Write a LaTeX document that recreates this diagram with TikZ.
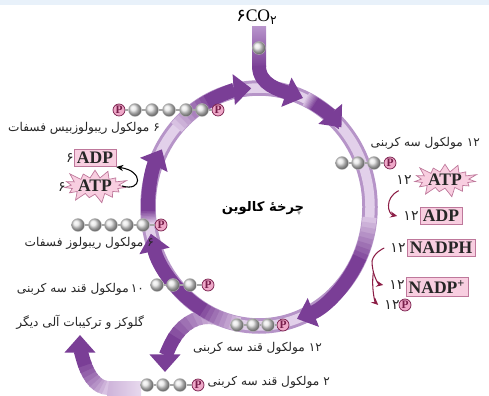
\documentclass[tikz,border=0pt]{standalone}
\usepackage{fontspec}
\setmainfont{Liberation Serif}
\newfontfamily\fa[Script=Arabic]{DejaVu Sans}
\TeXXeTstate=1
\usetikzlibrary{arrows.meta,shapes.symbols}

\definecolor{cycpur}{RGB}{122,62,150}
\definecolor{co2pur}{RGB}{165,120,190}
\definecolor{ringlight}{RGB}{226,208,234}
\definecolor{ringedge}{RGB}{182,148,200}
\definecolor{pfill}{RGB}{238,168,200}
\definecolor{pdraw}{RGB}{120,30,75}
\definecolor{boxfill}{RGB}{248,206,224}
\definecolor{boxdraw}{RGB}{190,120,155}
\definecolor{arrred}{RGB}{140,30,70}
\definecolor{topstrip}{RGB}{232,241,250}

\tikzset{
  pband/.style={line width=0.28cm},
  bigtip/.style={-{Triangle[width=17pt,length=10pt]}},
  ball/.style={circle, minimum size=0.26cm, inner sep=0pt, ball color=gray!20, draw=gray!55, very thin},
  phos/.style={circle, minimum size=0.24cm, inner sep=0pt, fill=pfill, draw=pdraw, thin, text=pdraw, font=\bfseries\fontsize{6.5}{6.5}\selectfont},
  link/.style={draw=gray!70, thick},
  enbox/.style={draw=boxdraw, fill=boxfill, inner sep=1.6pt, text=black!85, font=\bfseries\fontsize{10}{10}\selectfont},
  burst/.style={starburst, starburst points=15, starburst point height=6pt, fill=boxfill, draw=boxdraw, inner sep=0pt, text=black!85, font=\bfseries\fontsize{10}{10}\selectfont},
  falabel/.style={text=black!85, font=\fa\fontsize{6.9}{8}\selectfont},
  num/.style={text=black!85, font=\fa\fontsize{8}{9}\selectfont},
  redarr/.style={draw=arrred, semithick, -{Stealth[length=4pt,width=3.5pt]}},
}

\newcommand{\fatxt}[1]{\beginR #1\endR}

% arc that fades from the ring colour into dark purple, tip at the end
\newcommand{\fadearc}[6]{%
  \foreach \k in {0,...,7}{%
    \pgfmathsetmacro{\aa}{#4+(#5-#4)*\k/8}%
    \pgfmathsetmacro{\ab}{#4+(#5-#4)*(\k+1.4)/8}%
    \pgfmathtruncatemacro{\pc}{10+11*\k}%
    \draw[pband, draw=cycpur!\pc!ringlight] ([shift={(\aa:#2 and #3)}]#1) arc[start angle=\aa, end angle=\ab, x radius=#2, y radius=#3];
  }%
  \draw[pband, bigtip, draw=cycpur] ([shift={(#5:#2 and #3)}]#1) arc[start angle=#5, end angle=#6, x radius=#2, y radius=#3];
}

\begin{document}
\begin{tikzpicture}[x=0.02cm, y=0.02cm]
  \useasboundingbox (0,0) rectangle (489,395);
  \fill[topstrip] (0,390) rectangle (489,395);
  \coordinate (cen) at (259,188);

  % branch out of the cycle and the sugar leaving it
  \fadearc{208,23}{43}{55}{75}{140}{180}
  \shade[left color=cycpur!20!ringlight, right color=ringlight!80!white] (107,0) rectangle (141,14);
  \fadearc{108,60}{28}{53}{270}{215}{180}

  % the ring
  \draw[line width=0.31cm, ringedge] (cen) ellipse [x radius=111, y radius=119];
  \draw[line width=0.19cm, ringlight] (cen) ellipse [x radius=111, y radius=119];

  \fadearc{cen}{111}{119}{138}{118}{94}
  \fadearc{cen}{111}{119}{65}{60}{42}
  \fadearc{cen}{111}{119}{-5}{-25}{-70}
  \fadearc{cen}{111}{119}{-100}{-120}{-167}
  \fadearc{cen}{111}{119}{-172}{-178}{-209}

  % CO2 coming in
  \shade[top color=co2pur!80!white, bottom color=cycpur] (252,328) rectangle (266,368);
  \draw[pband, bigtip, draw=cycpur] (259,329) .. controls (259,310) and (280,305) .. (303,297);
  \node[ball] (co2b) at (259,347) {};
  \node (co2) at (257,378) {\fontsize{10}{10}\selectfont{\fa ۶}CO\textsubscript{\fa ۲}};

  % ribulose bisphosphate
  \node[phos] (rbpA) at (119,285) {P};
  \foreach \x [count=\i] in {135,152,169,186,202} \node[ball] (rbp\i) at (\x,285) {};
  \node[phos] (rbpB) at (218,285) {P};
  \draw[link] (rbpA) -- (rbp1);
  \foreach \i [evaluate=\i as \j using int(\i+1)] in {1,...,4} \draw[link] (rbp\i) -- (rbp\j);
  \draw[link] (rbp5) -- (rbpB);
  \node[falabel, anchor=east] (lrbp) at (166,267) {\fatxt{۶ مولکول ریبولوزبیس فسفات}};

  % three-carbon molecules on the right
  \foreach \x [count=\i] in {342,358,374} \node[ball] (tc\i) at (\x,232) {};
  \node[phos] (tcP) at (390,232) {P};
  \draw[link] (tc1) -- (tc2) (tc2) -- (tc3) (tc3) -- (tcP);
  \node[falabel, anchor=east] (l3c) at (486,252) {\fatxt{۱۲ مولکول سه کربنی}};

  \node[burst, minimum width=1.05cm, minimum height=0.64cm] (atpR) at (445,215) {ATP};
  \node[num] (natpR) at (404,215) {۱۲};
  \node[enbox] (adpR) at (441,179) {ADP};
  \node[num] (nadpR) at (411,179) {۱۲};
  \draw[redarr] ([xshift=-3pt]natpR.south) .. controls (384,197) and (388,181) .. (nadpR.west);

  \node[enbox] (nadph) at (441,147) {NADPH};
  \node[num] (nnadph) at (398,147) {۱۲};
  \node[enbox] (nadpp) at (437,108) {NADP\textsuperscript{+}};
  \node[num] (nnadpp) at (397,110) {۱۲};
  \node[num] (np12) at (392,90) {۱۲};
  \node[phos] (pR) at (405,90) {P};
  \draw[arrred, semithick] (nnadph.west) .. controls (382,146) and (374,142) .. (372,134) coordinate (nd);
  \draw[redarr] (nd) .. controls (372,121) and (378,111) .. (nnadpp.west) coordinate[pos=0.3] (ndb);
  \draw[redarr] (ndb) .. controls (371,108) and (375,93) .. (np12.west);

  \node[font=\fa\bfseries\fontsize{7.5}{9}\selectfont] (title) at (263,187) {\fatxt{چرخهٔ کالوین}};

  % ribulose phosphate and ATP on the left
  \foreach \x [count=\i] in {78,95,111,127,143} \node[ball] (rp\i) at (\x,170) {};
  \node[phos] (rpP) at (161,170) {P};
  \foreach \i [evaluate=\i as \j using int(\i+1)] in {1,...,4} \draw[link] (rp\i) -- (rp\j);
  \draw[link] (rp5) -- (rpP);
  \node[falabel, anchor=east] (lrp) at (160,152) {\fatxt{۶ مولکول ریبولوز فسفات}};

  \node[enbox] (adpL) at (95,237) {ADP};
  \node[num] (nadpL) at (70,237) {۶};
  \node[burst, minimum width=0.78cm, minimum height=0.6cm] (atpL) at (95,209) {ATP};
  \node[num] (natpL) at (62,208) {۶};
  \draw[semithick, -{Stealth[length=4pt,width=3.5pt]}] (atpL.east) .. controls (142,203) and (144,224) .. (adpL.south east);

  % sugars at the bottom
  \foreach \x [count=\i] in {157,173,190} \node[ball] (ts\i) at (\x,110) {};
  \node[phos] (tsP) at (208,110) {P};
  \draw[link] (ts1) -- (ts2) (ts2) -- (ts3) (ts3) -- (tsP);
  \node[falabel, anchor=east] (l10) at (150,106) {\fatxt{۱۰\,مولکول قند سه کربنی}};
  \node[falabel, anchor=east] (lglc) at (150,73) {\fatxt{گلوکز و ترکیبات آلی دیگر}};

  \foreach \x [count=\i] in {237,253,268} \node[ball] (bs\i) at (\x,70) {};
  \node[phos] (bsP) at (283,70) {P};
  \draw[link] (bs1) -- (bs2) (bs2) -- (bs3) (bs3) -- (bsP);
  \node[falabel, anchor=east] (l12) at (328,47) {\fatxt{۱۲ مولکول قند سه کربنی}};

  \foreach \x [count=\i] in {147,163,180} \node[ball] (os\i) at (\x,10) {};
  \node[phos] (osP) at (198,10) {P};
  \draw[link] (os1) -- (os2) (os2) -- (os3) (os3) -- (osP);
  \node[falabel, anchor=east] (l2) at (336,13) {\fatxt{۲ مولکول قند سه کربنی}};
\end{tikzpicture}
\end{document}
